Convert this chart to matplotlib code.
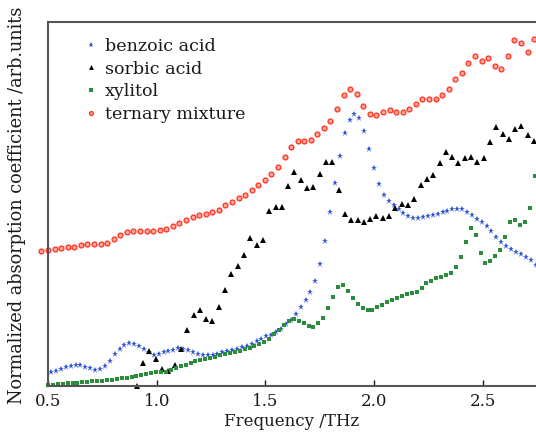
import numpy as np
import matplotlib
matplotlib.use("Agg")
import matplotlib.pyplot as plt

# --- data (y in arb. units) ---
freq_ternary = 0.47 + 0.0302 * np.arange(76)
ternary = [1.353, 1.363, 1.373, 1.38, 1.387, 1.393, 1.407, 1.423, 1.42, 1.423,
           1.433, 1.473, 1.513, 1.54, 1.547, 1.547, 1.55, 1.553, 1.56, 1.57,
           1.603, 1.627, 1.66, 1.693, 1.71, 1.72, 1.743, 1.76, 1.81, 1.843,
           1.877, 1.91, 1.96, 2.01, 2.06, 2.12, 2.193, 2.293, 2.395, 2.453,
           2.447, 2.457, 2.52, 2.583, 2.647, 2.77, 2.913, 2.973, 2.92, 2.80,
           2.72, 2.715, 2.743, 2.757, 2.745, 2.743, 2.773, 2.82, 2.87, 2.87,
           2.873, 2.915, 2.972, 3.075, 3.132, 3.232, 3.302, 3.247, 3.277, 3.202,
           3.167, 3.297, 3.463, 3.433, 3.337, 3.475]

freq_sorbic = 0.908 + 0.029 * np.arange(64)
sorbic = [0.0, 0.23, 0.353, 0.275, 0.175, 0.15, 0.207, 0.373, 0.56, 0.708,
          0.76, 0.675, 0.65, 0.793, 0.957, 1.12, 1.203, 1.31, 1.483, 1.41,
          1.457, 1.755, 1.787, 1.787, 1.997, 2.14, 2.065, 1.977, 1.992, 2.12,
          2.24, 2.24, 1.963, 1.724, 1.66, 1.657, 1.645, 1.673, 1.70, 1.685,
          1.704, 1.782, 1.818, 1.812, 1.875, 2.012, 2.068, 2.112, 2.233, 2.337,
          2.29, 2.233, 2.28, 2.29, 2.245, 2.282, 2.443, 2.593, 2.523, 2.475,
          2.567, 2.60, 2.51, 2.446]

freq_benzoic = 0.514 + 0.0225 * np.arange(100)
benzoic = [0.143, 0.153, 0.168, 0.186, 0.202, 0.213, 0.209, 0.195, 0.176, 0.162,
           0.169, 0.198, 0.253, 0.32, 0.375, 0.413, 0.427, 0.418, 0.397, 0.367,
           0.341, 0.314, 0.324, 0.341, 0.354, 0.36, 0.377, 0.373, 0.359, 0.341,
           0.325, 0.315, 0.308, 0.313, 0.324, 0.338, 0.354, 0.363, 0.375, 0.39,
           0.405, 0.425, 0.447, 0.472, 0.496, 0.515, 0.536, 0.569, 0.617, 0.66,
           0.722, 0.793, 0.865, 0.939, 1.048, 1.216, 1.453, 1.736, 2.032, 2.302,
           2.527, 2.665, 2.718, 2.677, 2.55, 2.372, 2.181, 2.016, 1.907, 1.847,
           1.806, 1.77, 1.734, 1.703, 1.684, 1.683, 1.691, 1.70, 1.708, 1.722,
           1.737, 1.752, 1.766, 1.774, 1.766, 1.741, 1.71, 1.672, 1.641, 1.601,
           1.554, 1.493, 1.444, 1.40, 1.37, 1.343, 1.318, 1.291, 1.261, 1.21]

freq_xylitol = 0.5 + 0.0226 * np.arange(100)
xylitol = [0.01, 0.013, 0.02, 0.023, 0.027, 0.03, 0.034, 0.04, 0.044, 0.048,
           0.051, 0.055, 0.059, 0.064, 0.071, 0.078, 0.085, 0.091, 0.101, 0.112,
           0.123, 0.13, 0.137, 0.145, 0.14, 0.158, 0.178, 0.198, 0.215, 0.234,
           0.248, 0.261, 0.274, 0.284, 0.295, 0.307, 0.32, 0.333, 0.343, 0.353,
           0.368, 0.382, 0.398, 0.417, 0.437, 0.47, 0.52, 0.565, 0.615, 0.65,
           0.667, 0.655, 0.627, 0.60, 0.595, 0.63, 0.685, 0.78, 0.89, 0.995,
           1.015, 0.955, 0.88, 0.82, 0.78, 0.76, 0.765, 0.79, 0.815, 0.837,
           0.857, 0.878, 0.904, 0.92, 0.928, 0.944, 0.98, 1.03, 1.055, 1.085,
           1.095, 1.107, 1.135, 1.195, 1.287, 1.44, 1.585, 1.51, 1.333, 1.233,
           1.253, 1.305, 1.365, 1.495, 1.64, 1.66, 1.615, 1.64, 1.785, 2.10]

x_ticks = [0.5, 1.0, 1.5, 2.0, 2.5]
x_tick_labels = ["0.5", "1.0", "1.5", "2.0", "2.5"]

plt.rcParams["font.family"] = ["DejaVu Serif"]

fig = plt.figure(figsize=(5.36, 4.36), dpi=100)
ax = fig.add_axes([48 / 536, 1 - 386 / 436, 1 - 48 / 536, (386 - 22) / 436])

ax.plot(freq_benzoic, benzoic, linestyle="none", marker="*", ms=4.6,
        color="#2f55d4", mew=0, label="benzoic acid", clip_on=False)
ax.plot(freq_sorbic, sorbic, linestyle="none", marker="^", ms=4.4,
        color="black", mew=0, label="sorbic acid", clip_on=False)
ax.plot(freq_xylitol, xylitol, linestyle="none", marker="s", ms=3.1,
        color="#2b8c3c", mew=0, label="xylitol", clip_on=False)
ax.plot(freq_ternary, ternary, linestyle="none", marker="o", ms=3.5,
        mfc="#ffa898", mec="#ff3020", mew=0.9, label="ternary mixture", clip_on=False)

ax.set_xlim(0.5, 0.5 + (536 - 48) / 217.5)
ax.set_ylim(0, 3.64)

# --- axes styling
for side in ["left", "bottom", "top"]:
    ax.spines[side].set_color("#555555")
    ax.spines[side].set_linewidth(1.5)
ax.spines["right"].set_visible(False)

ax.set_xticks(x_ticks)
ax.set_xticklabels(x_tick_labels)
ax.set_yticks([])
ax.tick_params(axis="x", direction="in", length=4, width=1, pad=5,
               labelsize=12, colors="#1a1a1a")
ax.set_xlabel("Frequency /THz", fontsize=12, color="#1a1a1a", labelpad=2)

fig.text(17 / 536, 1 - 205 / 436, "Normalized absorption coefficient /arb.units",
         rotation=90, ha="center", va="center", fontsize=12.8, color="#1a1a1a")

leg = ax.legend(loc="upper left", bbox_to_anchor=(85 / 536, 1 - 38 / 436),
                bbox_transform=fig.transFigure, frameon=False, fontsize=12.6,
                handlelength=0.7, handletextpad=0.45, labelspacing=0.32,
                borderpad=0, borderaxespad=0, markerscale=0.8)
for t in leg.get_texts():
    t.set_color("#1a1a1a")

fig.savefig("out.png", dpi=100)
